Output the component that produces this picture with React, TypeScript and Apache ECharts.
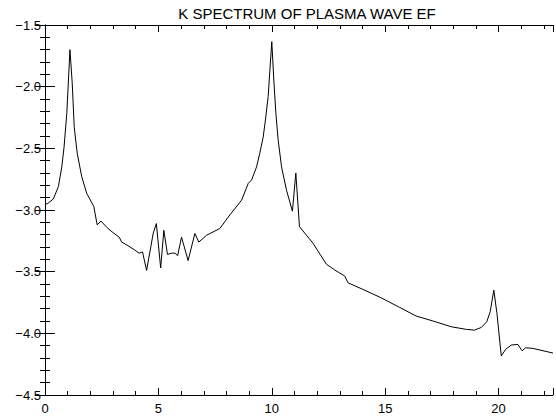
import React, { useEffect, useRef } from "react";
import * as echarts from "echarts";

const titleText = "K SPECTRUM OF PLASMA WAVE EF";

const kValues = [
  0, 0.1, 0.37, 0.59, 0.74, 0.84, 0.96, 1.1, 1.2, 1.29, 1.42, 1.62, 1.84, 2.15,
  2.3, 2.47, 2.72, 3.01, 3.27, 3.38, 3.67, 3.96, 4.15, 4.3, 4.48, 4.77, 4.91,
  5.1, 5.24, 5.4, 5.58, 5.73, 5.85, 6.02, 6.31, 6.61, 6.78, 6.97, 7.12, 7.71,
  8.15, 8.67, 8.96, 9.11, 9.33, 9.47, 9.62, 9.72, 9.84, 10.0, 10.09, 10.18,
  10.28, 10.43, 10.65, 10.91, 11.06, 11.22, 11.82, 12.41, 12.78, 13.22, 13.36,
  14.02, 14.8, 15.64, 16.37, 17.11, 17.92, 18.58, 18.94, 19.24, 19.48, 19.63,
  19.79, 19.93, 20.12, 20.31, 20.56, 20.85, 21.04, 21.19, 21.51, 22.4,
];

const spectrum = [
  -2.95, -2.95, -2.91, -2.81, -2.65, -2.49, -2.22, -1.7, -1.97, -2.33, -2.54,
  -2.73, -2.865, -2.97, -3.12, -3.09, -3.14, -3.185, -3.22, -3.26, -3.29,
  -3.325, -3.35, -3.34, -3.49, -3.19, -3.11, -3.47, -3.165, -3.36, -3.35,
  -3.35, -3.37, -3.22, -3.41, -3.19, -3.26, -3.23, -3.205, -3.15, -3.04, -2.92,
  -2.785, -2.757, -2.65, -2.54, -2.41, -2.27, -2.08, -1.635, -1.946, -2.216,
  -2.43, -2.65, -2.84, -3.01, -2.7, -3.135, -3.27, -3.44, -3.487, -3.536,
  -3.59, -3.644, -3.71, -3.79, -3.86, -3.9, -3.947, -3.968, -3.974, -3.952,
  -3.906, -3.825, -3.65, -3.84, -4.184, -4.13, -4.095, -4.09, -4.142, -4.117,
  -4.122, -4.16,
];

const xMin = 0;
const xMax = 22.4;
const xMajor = 5;
const xMinor = 1;
const yMin = -4.5;
const yMax = -1.5;
const yMajor = 0.5;
const yMinor = 0.1;

const FONT = "'Liberation Sans', Arial, Helvetica, sans-serif";

export default function App() {
  const ref = useRef<HTMLDivElement>(null);

  useEffect(() => {
    if (!ref.current) return;
    const chart = echarts.init(ref.current, undefined, { renderer: "svg" });

    const axisLine = { show: true, lineStyle: { color: "#000", width: 1 } };
    const noLine = { show: false };

    const xAx = (position: string, interval: number, len: number, labels: boolean, line: boolean) => ({
      type: "value",
      position,
      min: xMin,
      max: xMax,
      interval,
      axisLine: line ? axisLine : noLine,
      axisTick: { show: true, inside: true, length: len, lineStyle: { color: "#000", width: 1 } },
      axisLabel: labels
        ? {
            show: true,
            margin: 7,
            color: "#000",
            fontSize: 13,
            fontFamily: FONT,
            formatter: (v: number) => (Math.abs(v % xMajor) < 1e-9 ? String(v) : ""),
          }
        : { show: false },
      splitLine: { show: false },
    });

    const yAx = (position: string, interval: number, len: number, labels: boolean, line: boolean) => ({
      type: "value",
      position,
      min: yMin,
      max: yMax,
      interval,
      axisLine: line ? axisLine : noLine,
      axisTick: { show: true, inside: true, length: len, lineStyle: { color: "#000", width: 1 } },
      axisLabel: labels
        ? {
            show: true,
            margin: 4,
            color: "#000",
            fontSize: 13,
            fontFamily: FONT,
            formatter: (v: number) => v.toFixed(1).replace("-", "\u2212"),
          }
        : { show: false },
      splitLine: { show: false },
    });

    const data = kValues.map((k, i) => [k, spectrum[i]]);

    chart.setOption({
      animation: false,
      backgroundColor: "#fff",
      grid: { left: 45, right: 3, top: 25, bottom: 21, containLabel: false },
      graphic: [
        {
          type: "text",
          x: 307,
          y: 13,
          style: {
            text: titleText,
            fill: "#000",
            font: `15px ${FONT}`,
            textAlign: "center",
            textVerticalAlign: "middle",
          },
        },
      ],
      xAxis: [
        xAx("bottom", xMajor, 7, true, true),
        xAx("bottom", xMinor, 4, false, false),
        xAx("top", xMajor, 7, false, true),
        xAx("top", xMinor, 4, false, false),
      ],
      yAxis: [
        yAx("left", yMajor, 10, true, true),
        yAx("left", yMinor, 5, false, false),
        yAx("right", yMajor, 10, false, true),
        yAx("right", yMinor, 5, false, false),
      ],
      series: [
        {
          type: "line",
          xAxisIndex: 0,
          yAxisIndex: 0,
          data,
          symbol: "none",
          lineStyle: { color: "#000", width: 1 },
          clip: true,
        },
      ],
    });

    return () => chart.dispose();
  }, []);

  return (
    <div
      ref={ref}
      style={{ position: "fixed", left: 0, top: 0, width: 556, height: 416, background: "#fff" }}
    />
  );
}
